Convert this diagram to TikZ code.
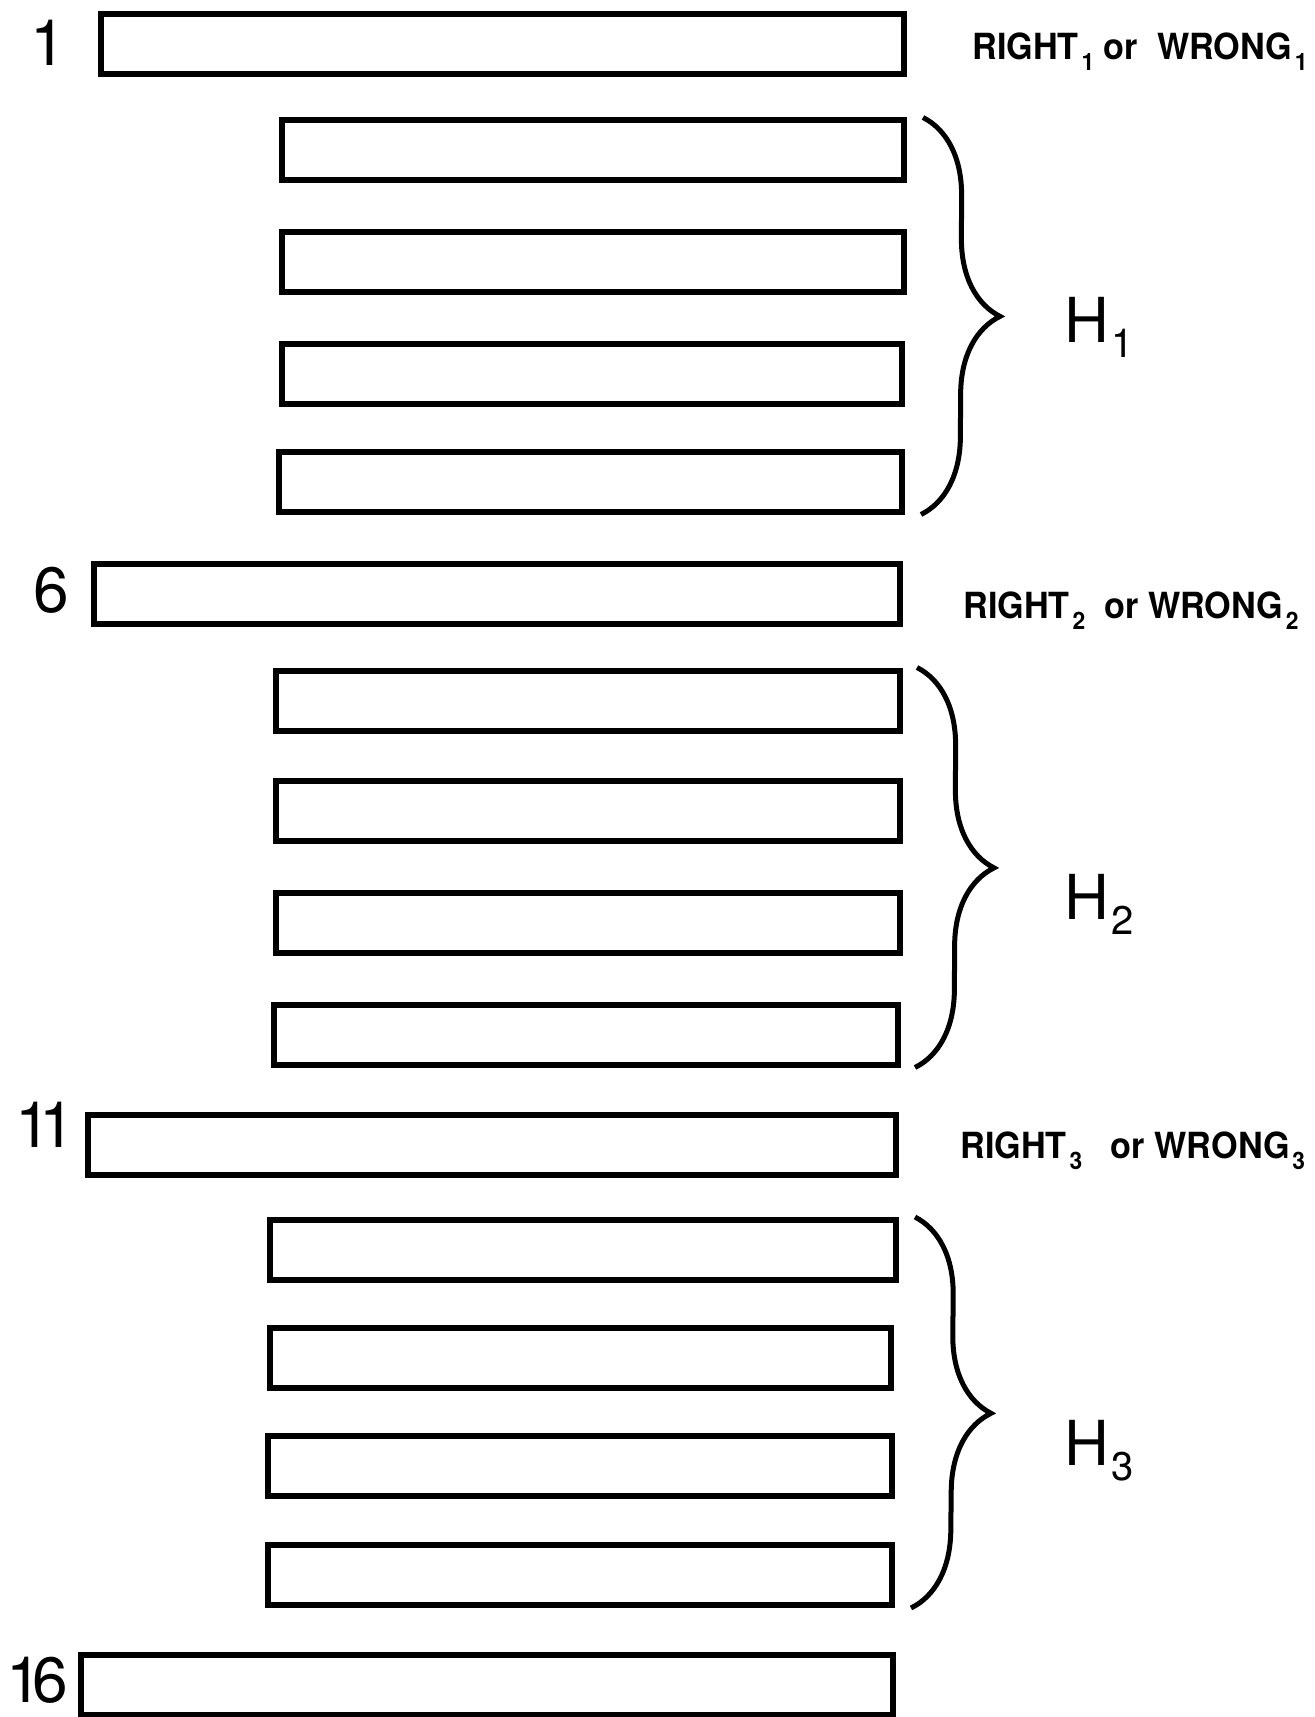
\documentclass[tikz,border=0pt]{standalone}
\usepackage{fontspec}
\setmainfont{TeX Gyre Heros}
\usetikzlibrary{decorations.pathreplacing}

% lowered index as in the typed original
\newcommand{\idx}[1]{\hspace{1.5pt}\raisebox{-5.5pt}{\fontsize{12}{12}\selectfont #1}}
\newcommand{\hidx}[1]{\hspace{1pt}\raisebox{-7.5pt}{\fontsize{20}{20}\selectfont #1}}
\newcommand{\narrow}[1]{\scalebox{0.95}[1]{#1}}

\begin{document}
\begin{tikzpicture}[x=0.5pt, y=-0.5pt,
    bar/.style={draw, line width=3pt, minimum height=30pt, inner sep=0pt},
    num/.style={inner sep=0pt, font=\fontsize{32}{32}\selectfont},
    verdict/.style={anchor=base west, inner sep=0pt, font=\bfseries\fontsize{18}{18}\selectfont},
    grp/.style={anchor=base west, inner sep=0pt, font=\fontsize{31}{31}\selectfont},
    curly/.style={decorate, decoration={brace, amplitude=39pt}, line width=2.5pt}]
    \useasboundingbox (0,0) rectangle (1315,1717);

    % Item 1 and first group
    \node[num] (n1) at (48,43) {1};
    \node[bar, minimum width=401.5pt] (q1) at (502.5,44.5) {};
    \node[verdict] (v1) at (972,60) {\narrow{RIGHT\idx{1} or\ \ WRONG\idx{1}}};

    \node[bar, minimum width=311pt] (h1a) at (593,150.5) {};
    \node[bar, minimum width=311pt] (h1b) at (593,262) {};
    \node[bar, minimum width=310pt] (h1c) at (592,374) {};
    \node[bar, minimum width=311.5pt] (h1d) at (590.5,481.5) {};
    \draw[curly] ([xshift=8pt]h1a.north east) -- ([xshift=8pt]h1d.south east);
    \node[grp] (g1) at (1064,343) {H\hidx{1}};

    % Item 6 and second group
    \node[num] (n6) at (51,590) {6};
    \node[bar, minimum width=403pt] (q6) at (497,593.5) {};
    \node[verdict] (v6) at (963,618) {\narrow{RIGHT\idx{2}\ \ or\ WRONG\idx{2}}};

    \node[bar, minimum width=312pt] (h2a) at (588,700.5) {};
    \node[bar, minimum width=312pt] (h2b) at (588,810.5) {};
    \node[bar, minimum width=312pt] (h2c) at (588,922.5) {};
    \node[bar, minimum width=312pt] (h2d) at (586,1034.5) {};
    \draw[curly] ([xshift=7pt]h2a.north east) -- ([xshift=7pt]h2d.south east);
    \node[grp] (g2) at (1064,919) {H\hidx{2}};

    % Item 11 and third group
    \node[num] (n11) at (45,1125) {1\kern-6pt 1};
    \node[bar, minimum width=404pt] (q11) at (492,1145) {};
    \node[verdict] (v11) at (960,1158) {\narrow{RIGHT\idx{3}\ \ \ or WRONG\idx{3}}};

    \node[bar, minimum width=313pt] (h3a) at (583,1250) {};
    \node[bar, minimum width=310.5pt] (h3b) at (580.5,1358) {};
    \node[bar, minimum width=312pt] (h3c) at (580,1466) {};
    \node[bar, minimum width=312pt] (h3d) at (580,1575) {};
    \draw[curly] ([xshift=8pt]h3a.north east) -- ([xshift=8pt]h3d.south east);
    \node[grp] (g3) at (1064,1465) {H\hidx{3}};

    % Item 16
    \node[num] (n16) at (37,1680) {1\kern-5pt 6};
    \node[bar, minimum width=406pt] (q16) at (487,1684.5) {};
\end{tikzpicture}
\end{document}
